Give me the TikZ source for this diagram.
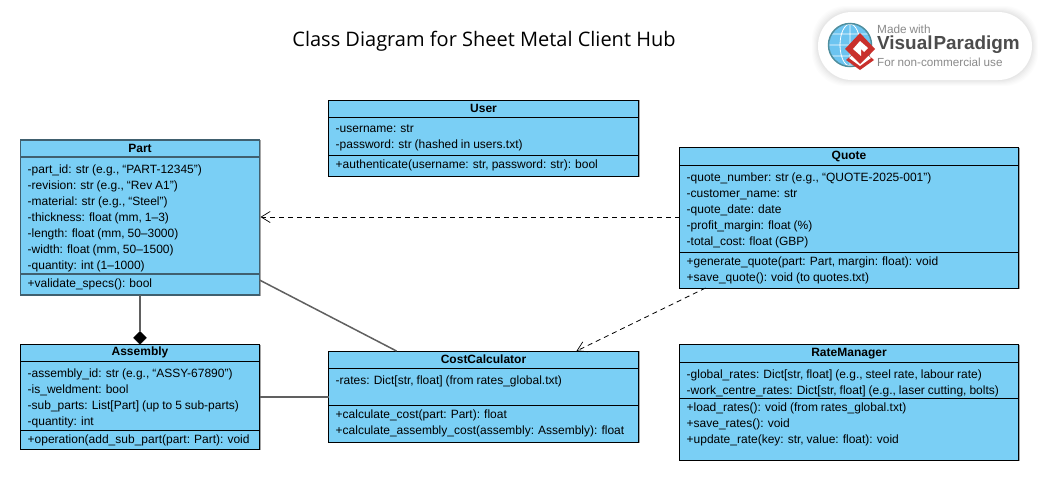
\documentclass[tikz,border=0pt]{standalone}
\usepackage{fontspec}
\setmainfont[WordSpace=0.88]{Liberation Sans}
\newfontfamily\titlefont{Open Sans}
\usetikzlibrary{arrows.meta,calc,shapes.geometric}
\definecolor{classfill}{HTML}{7ACFF5}
\definecolor{edgegrey}{HTML}{606060}
\definecolor{partedge}{HTML}{40606F}
\definecolor{logotext}{HTML}{8A8A8A}
\definecolor{globeblue}{HTML}{6CC4F0}
\definecolor{globerim}{HTML}{4E8E9E}
\definecolor{logored}{HTML}{C9302C}
\tikzset{
  x=1pt,y=-1pt,
  classbox/.style={draw=black,fill=classfill,line width=1pt,rectangle,inner sep=0pt,outer sep=0pt,anchor=north west},
  classtitle/.style={font=\fontsize{12}{14}\selectfont\bfseries,inner sep=0pt,anchor=center},
  members/.style={font=\fontsize{12}{16}\selectfont,align=left,inner sep=0pt,anchor=north west},
  rel/.style={draw=edgegrey,line width=1.5pt},
  dep/.style={draw=black,line width=.8pt,dash pattern=on 5pt off 4pt,-{Straight Barb[length=9pt,width=11pt,line width=.7pt]}},
  logotxt/.style={inner sep=0pt,anchor=west},
}
% name, x1, y1, x2, y2, sep1, sep2, title, attrs, ops
\newcommand{\umlclass}[9]{%
  \draw[black!35,line width=1pt] (#4+1,#3) -- (#4+1,#5+1);
  \node[classbox,minimum width=#4-#2,minimum height=#5-#3] (#1) at (#2,#3) {};
  \draw[black,line width=1pt] (#1.west |- 0,#6) -- (#1.east |- 0,#6);
  \draw[black,line width=1pt] (#1.west |- 0,#7) -- (#1.east |- 0,#7);
  \node[classtitle] (#1title) at ($(#1.north)!.5!(#1.north |- 0,#6)$) {#8};
  \umlclassrest{#1}{#2}{#6}{#7}{#9}%
}
\newcommand{\umlclassrest}[5]{\node[members] (#1attrs) at (#2+7,#3+7.5) {#5};\def\curname{#1}\def\curx{#2}\def\cury{#4}}
\newcommand{\umlops}[1]{\node[members] (\curname ops) at (\curx+7,\cury+5) {#1};}
\begin{document}
\begin{tikzpicture}
\useasboundingbox (0,0) rectangle (1043,480);
\fill[white] (0,0) rectangle (1043,480);
\node[font=\titlefont\fontsize{20}{24}\selectfont,inner sep=0pt] (title) at (484,41) {Class Diagram for Sheet Metal Client Hub};

% logo
\foreach \g/\o in {6/.012,5/.012,4/.014,3/.016,2/.018,1/.02}{\fill[black,opacity=\o,rounded corners=34pt] (818-\g,12-\g) rectangle (1032+\g,80+\g);}
\fill[white,rounded corners=34pt] (818,12) rectangle (1032,80);
\fill[globeblue] (850,45) circle (21);
\draw[white,line width=.8pt] (850,45) circle[x radius=10,y radius=21] (829,45) -- (871,45) (850,24) -- (850,66) (832,34) -- (868,34) (832,56) -- (868,56);
\draw[globerim,line width=1.5pt] (850,45) circle (21.5);
\fill[logored] (846,60) -- (860,48) -- (874,60) -- (860,70) -- cycle;
\fill[white] (849,58) -- (860,49) -- (871,58) -- (860,66) -- cycle;
\fill[logored] (845,49) -- (860,33) -- (875,49) -- (860,64) -- cycle;
\fill[white] (853,49) -- (860,41) -- (868,48) -- (864,52) -- (861,49) -- (861,56) -- cycle;
\node[logotxt,font=\fontsize{11.8}{13}\selectfont,text=logotext] (madewith) at (877,29) {Made with};
\node[logotxt,font=\fontsize{18.9}{20}\selectfont\bfseries,text=black!70] (vp) at (877,45) {Visual\kern1pt Paradigm};
\node[logotxt,font=\fontsize{11.7}{13}\selectfont,text=logotext] (forncu) at (877,62) {For non-commercial use};

% classes
\umlclass{user}{328.5}{100}{638.5}{176}{117}{155}{User}{-username: str\\-password: str (hashed in users.txt)}
\umlops{+authenticate(username: str, password: str): bool}

\umlclass{part}{20.5}{140}{259.5}{295}{157}{274}{Part}{-part\_id: str (e.g., “PART-12345”)\\-revision: str (e.g., “Rev A1”)\\-material: str (e.g., “Steel”)\\-thickness: float (mm, 1–3)\\-length: float (mm, 50–3000)\\-width: float (mm, 50–1500)\\-quantity: int (1–1000)}
\umlops{+validate\_specs(): bool}
\draw[partedge,line width=1.2pt] (part.north west) rectangle (part.south east);
\draw[partedge,line width=1.2pt] (part.west |- 0,157) -- (part.east |- 0,157) (part.west |- 0,274) -- (part.east |- 0,274);

\umlclass{quote}{679.5}{147.5}{1018.5}{288}{165}{252}{Quote}{-quote\_number: str (e.g., “QUOTE-2025-001”)\\-customer\_name: str\\-quote\_date: date\\-profit\_margin: float (\%)\\-total\_cost: float (GBP)}
\umlops{+generate\_quote(part: Part, margin: float): void\\+save\_quote(): void (to quotes.txt)}

\umlclass{assembly}{20.5}{344.5}{259.5}{449}{361}{430}{Assembly}{-assembly\_id: str (e.g., “ASSY-67890”)\\-is\_weldment: bool\\-sub\_parts: List[Part] (up to 5 sub-parts)\\-quantity: int}
\umlops{+operation(add\_sub\_part(part: Part): void}

\umlclass{cost}{328.5}{351}{638.5}{442}{368}{405}{CostCalculator}{-rates: Dict[str, float] (from rates\_global.txt)}
\umlops{+calculate\_cost(part: Part): float\\+calculate\_assembly\_cost(assembly: Assembly): float}

\umlclass{rate}{679.5}{344.5}{1018.5}{460}{362}{398}{RateManager}{-global\_rates: Dict[str, float] (e.g., steel rate, labour rate)\\-work\_centre\_rates: Dict[str, float] (e.g., laser cutting, bolts)}
\umlops{+load\_rates(): void (from rates\_global.txt)\\+save\_rates(): void\\+update\_rate(key: str, value: float): void}

% connectors
\node[diamond,fill=black,draw=black,inner sep=0pt,minimum width=13pt,minimum height=13pt,anchor=south] (comp) at (assembly.north) {};
\draw[rel] (part.south) -- (comp.north);
\draw[rel] ($(part.south east)+(0,-15)$) -- ($(cost.north west)+(68,0)$);
\draw[rel,line width=2pt] ($(assembly.east |- cost.west)+(0,.5)$) -- ($(cost.west)+(0,.5)$);
\draw[dep] ($(quote.north west)+(0,69.5)$) -- ($(part.north east)+(1,77)$);
\draw[dep] ($(quote.south west)+(26,0)$) -- ($(cost.north west)+(248,0)$);
\end{tikzpicture}
\end{document}
